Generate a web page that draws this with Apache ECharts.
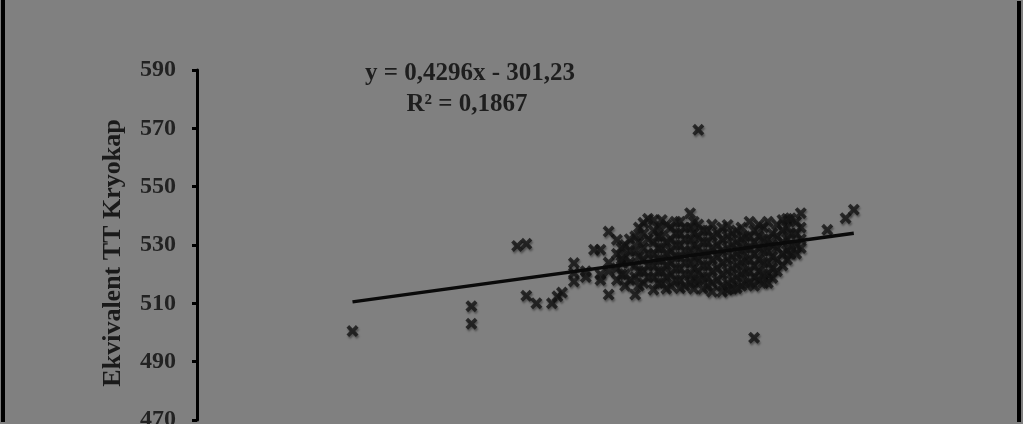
<!DOCTYPE html>
<html>
<head>
<meta charset="utf-8">
<script src="https://cdn.jsdelivr.net/npm/echarts@6/dist/echarts.min.js"></script>
<style>
html,body{margin:0;padding:0;background:#808080;}
#chart{width:1023px;height:424px;}
</style>
</head>
<body>
<div id="chart"></div>
<script>
// Observed points: x values and Y values (Ekvivalent TT Kryokap)
const xValues = [
  1889.5, 1902.5, 1902.5, 1907.5, 1908.5, 1908.5, 1909.6, 1911.3, 1911.9, 1912.4,
  1913.7, 1913.7, 1913.7, 1915.0, 1915.0, 1915.9, 1916.6, 1916.6, 1916.6,
  1917.5, 1917.5, 1917.5, 1917.5,
  1918.4, 1918.4, 1918.4, 1918.4,
  1918.9, 1918.9, 1918.9, 1918.9,
  1919.3, 1919.3, 1919.3, 1919.3,
  1919.8, 1919.8, 1919.8, 1919.8,
  1920.4, 1920.4, 1920.4, 1920.4, 1920.4,
  1920.8, 1920.8, 1920.8, 1920.8, 1920.8,
  1921.3, 1921.3, 1921.3, 1921.3, 1921.3, 1921.3,
  1921.8, 1921.8, 1921.8, 1921.8, 1921.8,
  1922.4, 1922.4, 1922.4, 1922.4, 1922.4, 1922.4, 1922.4,
  1922.9, 1922.9, 1922.9, 1922.9, 1922.9, 1922.9,
  1923.3, 1923.3, 1923.3, 1923.3, 1923.3, 1923.3,
  1923.8, 1923.8, 1923.8, 1923.8, 1923.8, 1923.8,
  1924.3, 1924.3, 1924.3, 1924.3, 1924.3, 1924.3,
  1924.8, 1924.8, 1924.8, 1924.8, 1924.8, 1924.8,
  1925.3, 1925.3, 1925.3, 1925.3, 1925.3, 1925.3, 1925.3,
  1925.8, 1925.8, 1925.8, 1925.8, 1925.8, 1925.8,
  1926.4, 1926.4, 1926.4, 1926.4, 1926.4, 1926.4, 1926.4,
  1926.8, 1926.8, 1926.8, 1926.8, 1926.8, 1926.8, 1926.8,
  1927.3, 1927.3, 1927.3, 1927.3, 1927.3, 1927.3, 1927.3,
  1927.8, 1927.8, 1927.8, 1927.8, 1927.8, 1927.8,
  1928.3, 1928.3, 1928.3, 1928.3, 1928.3, 1928.3,
  1928.8, 1928.8, 1928.8, 1928.8, 1928.8, 1928.8, 1928.8,
  1929.4, 1929.4, 1929.4, 1929.4, 1929.4,
  1929.9, 1929.9, 1929.9, 1929.9, 1929.9, 1929.9, 1929.9,
  1930.5, 1930.5, 1930.5, 1930.5, 1930.5, 1930.5, 1930.5,
  1931.0, 1931.0, 1931.0, 1931.0, 1931.0, 1931.0,
  1931.5, 1931.5, 1931.5, 1931.5, 1931.5, 1931.5,
  1932.0, 1932.0, 1932.0, 1932.0, 1932.0, 1932.0,
  1932.4, 1932.4, 1932.4, 1932.4, 1932.4,
  1932.9, 1932.9, 1932.9, 1932.9, 1932.9, 1932.9,
  1933.4, 1933.4, 1933.4, 1933.4, 1933.4, 1933.4, 1933.4,
  1933.9, 1933.9, 1933.9, 1933.9, 1933.9, 1933.9,
  1934.4, 1934.4, 1934.4, 1934.4, 1934.4, 1934.4,
  1934.9, 1934.9, 1934.9, 1934.9, 1934.9, 1934.9,
  1935.4, 1935.4, 1935.4, 1935.4, 1935.4,
  1935.9, 1935.9, 1935.9, 1935.9, 1935.9,
  1936.5, 1936.5, 1936.5, 1936.5, 1936.5,
  1937.0, 1937.0, 1937.0, 1937.0, 1937.0,
  1937.4, 1937.4, 1937.4, 1937.4,
  1938.0, 1938.0, 1938.0, 1938.0,
  1938.5, 1938.5, 1938.5, 1938.5,
  1941.4, 1943.4, 1944.3
];
const yValues = [
  500.5, 509.0, 503.0, 529.7, 530.4, 512.6, 510.0, 510.0, 512.4, 513.7,
  523.8, 520.4, 517.5, 521.0, 519.0, 528.4, 528.4, 520.0, 518.0,
  534.6, 513.0, 524.0, 521.0,
  531.8, 527.0, 522.0, 518.0,
  529.0, 525.0, 520.0, 524.0,
  530.0, 526.0, 520.0, 516.0,
  532.0, 528.0, 524.0, 518.0,
  513.0, 533.0, 528.0, 523.0, 519.0,
  536.0, 531.0, 526.0, 521.0, 516.0,
  537.6, 534.0, 529.0, 525.0, 521.0, 517.0,
  539.0, 532.0, 527.0, 523.0, 519.0,
  538.6, 535.0, 531.0, 527.0, 523.0, 519.0, 514.7,
  536.0, 533.0, 529.0, 525.0, 521.0, 517.0,
  538.6, 533.0, 529.0, 525.0, 521.0, 517.0,
  537.0, 531.0, 527.0, 523.0, 519.0, 515.0,
  536.0, 532.0, 528.0, 524.0, 520.0, 516.0,
  538.0, 534.0, 530.0, 526.0, 522.0, 518.0,
  538.0, 534.0, 530.0, 526.0, 522.0, 518.0, 515.2,
  536.0, 532.0, 528.0, 524.0, 520.0, 516.0,
  540.9, 536.0, 532.0, 528.0, 524.0, 520.0, 517.0,
  538.0, 534.0, 530.0, 526.0, 522.0, 518.0, 515.0,
  569.5, 537.0, 533.0, 529.0, 525.0, 521.0, 518.0,
  535.0, 531.0, 527.0, 523.0, 519.0, 515.0,
  535.0, 531.0, 527.0, 523.0, 519.0, 516.0,
  537.0, 533.0, 529.0, 525.0, 521.0, 517.0, 514.0,
  534.0, 530.0, 526.0, 522.0, 518.0,
  536.0, 532.0, 528.0, 524.0, 520.0, 516.0, 514.0,
  536.9, 533.0, 529.0, 525.0, 521.0, 517.0, 514.7,
  534.0, 530.0, 526.0, 522.0, 518.0, 515.0,
  535.0, 531.0, 527.0, 523.0, 519.0, 515.2,
  536.0, 532.0, 528.0, 524.0, 520.0, 516.0,
  533.0, 529.0, 525.0, 521.0, 517.0,
  538.0, 533.0, 529.0, 525.0, 521.0, 517.0,
  498.2, 535.0, 531.0, 527.0, 523.0, 519.0, 516.0,
  537.0, 533.0, 529.0, 525.0, 521.0, 518.0,
  536.0, 532.0, 528.0, 524.0, 520.0, 517.0,
  538.0, 532.0, 528.0, 524.0, 520.0, 517.0,
  518.7, 534.0, 530.0, 526.0, 522.0,
  537.0, 533.0, 529.0, 525.0, 521.0,
  538.6, 535.0, 531.0, 527.0, 523.0,
  539.0, 536.0, 532.0, 528.0, 525.0,
  539.2, 534.0, 530.0, 527.0,
  538.0, 534.0, 530.0, 527.0,
  540.9, 536.0, 532.0, 529.0,
  535.2, 539.2, 542.1
];
// Linear trend shown on the chart
const trendSlope = 0.4296;
const trendIntercept = -301.23;
const equationText = 'y = 0,4296x - 301,23';
const r2Text = 'R² = 0,1867';
const yTicks = [470, 490, 510, 530, 550, 570, 590];
const yAxisName = 'Ekvivalent TT Kryokap';

const points = xValues.map((x, i) => [x, yValues[i]]);
const xMin = Math.min(...xValues), xMax = Math.max(...xValues);
const trend = [[xMin, trendSlope * xMin + trendIntercept], [xMax, trendSlope * xMax + trendIntercept]];

const chart = echarts.init(document.getElementById('chart'));
const serif = '"Liberation Serif", "DejaVu Serif", serif';
chart.setOption({
  backgroundColor: '#808080',
  animation: false,
  grid: { left: 197, top: 70, right: 21, bottom: 4, containLabel: false, outerBoundsMode: 'none' },
  xAxis: { type: 'value', min: 1872.5, max: 1960.5, show: false },
  yAxis: {
    type: 'value', min: yTicks[0], max: yTicks[yTicks.length - 1], interval: 20,
    name: yAxisName, nameLocation: 'middle', nameGap: 71, nameRotate: 90,
    nameTextStyle: { fontFamily: serif, fontWeight: 'bold', fontSize: 26, color: '#1a1a1a', padding: [0, 16, 0, 0] },
    axisLine: { show: true, lineStyle: { color: '#000', width: 3 } },
    axisTick: { show: true, inside: false, length: 5, lineStyle: { color: '#000', width: 3 } },
    axisLabel: { fontFamily: serif, fontWeight: 'bold', fontSize: 24, color: '#222', margin: 21, showMinLabel: true, showMaxLabel: true },
    splitLine: { show: false }
  },
  graphic: [
    { type: 'rect', shape: { x: 1, y: 0, width: 4, height: 422 }, style: { fill: '#000' } },
    { type: 'rect', shape: { x: 1017, y: 1, width: 4, height: 421 }, style: { fill: '#000' } },
    { type: 'text', x: 470, y: 74, style: { text: equationText, font: 'bold 25px ' + serif, fill: '#1e1e1e', align: 'center', verticalAlign: 'middle' } },
    { type: 'text', x: 467, y: 105, style: { text: r2Text, font: 'bold 25px ' + serif, fill: '#1e1e1e', align: 'center', verticalAlign: 'middle' } }
  ],
  series: [
    {
      type: 'scatter',
      data: points,
      symbol: 'path://M0,2.2 L2.2,0 L5,2.8 L7.8,0 L10,2.2 L7.2,5 L10,7.8 L7.8,10 L5,7.2 L2.2,10 L0,7.8 L2.8,5 Z',
      symbolSize: 12,
      itemStyle: { color: '#141414', shadowColor: 'rgba(0,0,0,0.45)', shadowBlur: 2, shadowOffsetX: 1, shadowOffsetY: 2 },
      z: 2
    },
    {
      type: 'line',
      data: trend,
      symbol: 'none',
      lineStyle: { color: '#0a0a0a', width: 3.5 },
      z: 3
    }
  ]
});
</script>
</body>
</html>
